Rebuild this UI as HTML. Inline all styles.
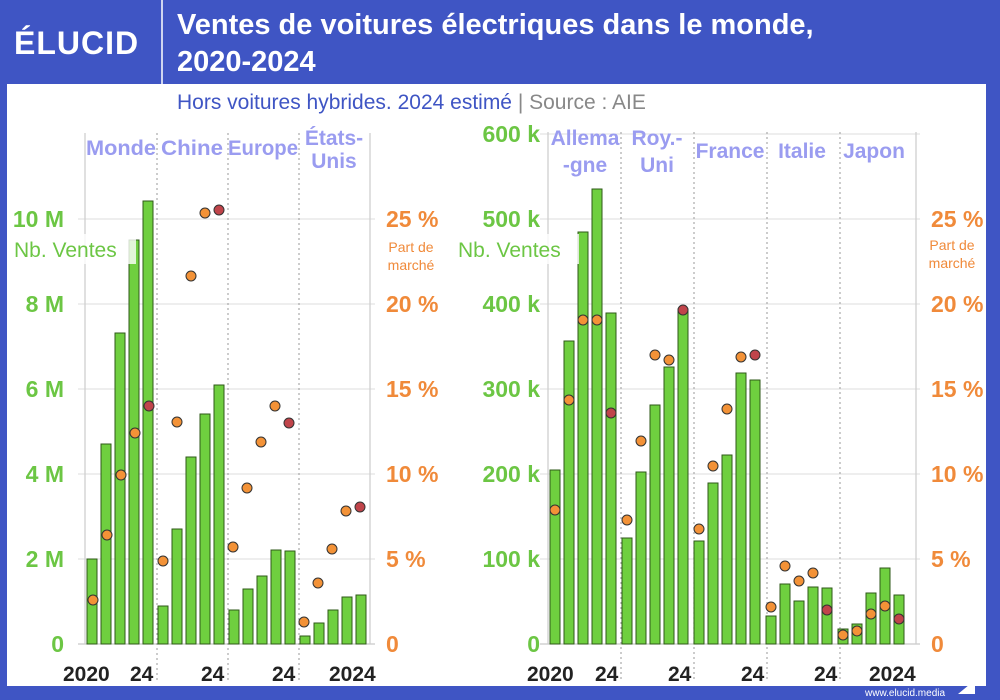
<!DOCTYPE html>
<html><head><meta charset="utf-8"><style>
body{margin:0;width:1000px;height:700px;overflow:hidden;background:#3f55c4;font-family:"Liberation Sans",sans-serif}
svg{display:block}
</style></head><body>
<svg width="1000" height="700" viewBox="0 0 1000 700" font-family="Liberation Sans, sans-serif">
<rect x="0" y="0" width="1000" height="700" fill="#3f55c4"/>
<rect x="7" y="84" width="979" height="602" fill="#fff"/>
<text x="14" y="54" font-size="32" font-weight="bold" fill="#fff" letter-spacing="1">ÉLUCID</text>
<line x1="162" y1="0" x2="162" y2="84" stroke="#fff" stroke-width="1.5"/>
<text x="177" y="34" font-size="29" font-weight="bold" fill="#fff">Ventes de voitures électriques dans le monde,</text>
<text x="177" y="71" font-size="29" font-weight="bold" fill="#fff">2020-2024</text>
<text x="177" y="109" font-size="21" fill="#3f55c4">Hors voitures hybrides. 2024 estimé <tspan fill="#888">  |  Source : AIE</tspan></text>
<text x="865" y="696" font-size="10" fill="#fff">www.elucid.media</text>
<polygon points="958,694 975,680 975,694" fill="#fff"/>

<g stroke="#ddd" stroke-width="1">
<line x1="78" y1="219" x2="375" y2="219"/><line x1="78" y1="304" x2="375" y2="304"/><line x1="78" y1="389" x2="375" y2="389"/><line x1="78" y1="474" x2="375" y2="474"/><line x1="78" y1="559" x2="375" y2="559"/><line x1="78" y1="644" x2="375" y2="644" stroke="#bbb"/>
<line x1="540" y1="134" x2="920" y2="134"/><line x1="540" y1="219" x2="920" y2="219"/><line x1="540" y1="304" x2="920" y2="304"/><line x1="540" y1="389" x2="920" y2="389"/><line x1="540" y1="474" x2="920" y2="474"/><line x1="540" y1="559" x2="920" y2="559"/><line x1="540" y1="644" x2="920" y2="644" stroke="#bbb"/>
</g>
<g stroke="#ccc" stroke-width="1.2">
<line x1="85" y1="133" x2="85" y2="644"/><line x1="370" y1="133" x2="370" y2="644"/>
<line x1="548" y1="132" x2="548" y2="644"/><line x1="916" y1="132" x2="916" y2="644"/>
</g>
<g stroke="#aaa" stroke-width="1.2" stroke-dasharray="2,3">
<line x1="157" y1="133" x2="157" y2="680"/><line x1="228" y1="133" x2="228" y2="680"/><line x1="299" y1="133" x2="299" y2="680"/>
<line x1="621" y1="132" x2="621" y2="680"/><line x1="694" y1="132" x2="694" y2="680"/><line x1="767" y1="132" x2="767" y2="680"/><line x1="840" y1="132" x2="840" y2="680"/>
</g>

<g font-size="21" font-weight="bold" fill="#9a9cf0" text-anchor="middle">
<text x="121" y="155" textLength="70" lengthAdjust="spacingAndGlyphs">Monde</text><text x="192" y="155" textLength="62" lengthAdjust="spacingAndGlyphs">Chine</text><text x="263" y="155" textLength="70" lengthAdjust="spacingAndGlyphs">Europe</text><text x="334" y="145">États-</text><text x="334" y="168">Unis</text>
<text x="585" y="145">Allema</text><text x="585" y="172">-gne</text><text x="657" y="145">Roy.-</text><text x="657" y="172">Uni</text><text x="730" y="158">France</text><text x="802" y="158">Italie</text><text x="874" y="158">Japon</text>
</g>

<g font-size="23" font-weight="bold" fill="#6cc644" text-anchor="end">
<text x="64" y="227">10 M</text><text x="64" y="312">8 M</text><text x="64" y="397">6 M</text><text x="64" y="482">4 M</text><text x="64" y="567">2 M</text><text x="64" y="652">0</text>
<text x="540" y="142">600 k</text><text x="540" y="227">500 k</text><text x="540" y="312">400 k</text><text x="540" y="397">300 k</text><text x="540" y="482">200 k</text><text x="540" y="567">100 k</text><text x="540" y="652">0</text>
</g>
<g font-size="23" font-weight="bold" fill="#f08a3a">
<text x="386" y="227">25 %</text><text x="386" y="312">20 %</text><text x="386" y="397">15 %</text><text x="386" y="482">10 %</text><text x="386" y="567">5 %</text><text x="386" y="652">0</text>
<text x="931" y="227">25 %</text><text x="931" y="312">20 %</text><text x="931" y="397">15 %</text><text x="931" y="482">10 %</text><text x="931" y="567">5 %</text><text x="931" y="652">0</text>
</g>
<g font-size="21" font-weight="bold" fill="#222">
<text x="63" y="681">2020</text><text x="130" y="681">24</text><text x="201" y="681">24</text><text x="272" y="681">24</text><text x="329" y="681">2024</text>
<text x="527" y="681">2020</text><text x="595" y="681">24</text><text x="668" y="681">24</text><text x="741" y="681">24</text><text x="814" y="681">24</text><text x="869" y="681">2024</text>
</g>

<g fill="#6fcf3f" stroke="#2f5a1a" stroke-width="1">
<rect x="87" y="559" width="10" height="85"/><rect x="101" y="444" width="10" height="200"/><rect x="115" y="333" width="10" height="311"/><rect x="129" y="240" width="10" height="404"/><rect x="143" y="201" width="10" height="443"/>
<rect x="158" y="606" width="10" height="38"/><rect x="172" y="529" width="10" height="115"/><rect x="186" y="457" width="10" height="187"/><rect x="200" y="414" width="10" height="230"/><rect x="214" y="385" width="10" height="259"/>
<rect x="229" y="610" width="10" height="34"/><rect x="243" y="589" width="10" height="55"/><rect x="257" y="576" width="10" height="68"/><rect x="271" y="550" width="10" height="94"/><rect x="285" y="551" width="10" height="93"/>
<rect x="300" y="636" width="10" height="8"/><rect x="314" y="623" width="10" height="21"/><rect x="328" y="610" width="10" height="34"/><rect x="342" y="597" width="10" height="47"/><rect x="356" y="595" width="10" height="49"/>
<rect x="550" y="470" width="10" height="174"/><rect x="564" y="341" width="10" height="303"/><rect x="578" y="232" width="10" height="412"/><rect x="592" y="189" width="10" height="455"/><rect x="606" y="313" width="10" height="331"/>
<rect x="622" y="538" width="10" height="106"/><rect x="636" y="472" width="10" height="172"/><rect x="650" y="405" width="10" height="239"/><rect x="664" y="367" width="10" height="277"/><rect x="678" y="309" width="10" height="335"/>
<rect x="694" y="541" width="10" height="103"/><rect x="708" y="483" width="10" height="161"/><rect x="722" y="455" width="10" height="189"/><rect x="736" y="373" width="10" height="271"/><rect x="750" y="380" width="10" height="264"/>
<rect x="766" y="616" width="10" height="28"/><rect x="780" y="584" width="10" height="60"/><rect x="794" y="601" width="10" height="43"/><rect x="808" y="587" width="10" height="57"/><rect x="822" y="588" width="10" height="56"/>
<rect x="838" y="629" width="10" height="15"/><rect x="852" y="624" width="10" height="20"/><rect x="866" y="593" width="10" height="51"/><rect x="880" y="568" width="10" height="76"/><rect x="894" y="595" width="10" height="49"/>
</g>

<rect x="12" y="234" width="124" height="30" fill="#fff" opacity="0.8"/>
<text x="14" y="257" font-size="21" fill="#6cc644">Nb. Ventes</text>
<rect x="455" y="234" width="124" height="30" fill="#fff" opacity="0.8"/>
<text x="458" y="257" font-size="21" fill="#6cc644">Nb. Ventes</text>
<g font-size="14" fill="#f08a3a" text-anchor="middle">
<text x="411" y="252">Part de</text><text x="411" y="270">marché</text>
<text x="952" y="250">Part de</text><text x="952" y="268">marché</text>
</g>

<g stroke="#333" stroke-width="1" fill="#f39237">
<circle cx="93" cy="600" r="5"/><circle cx="107" cy="535" r="5"/><circle cx="121" cy="475" r="5"/><circle cx="135" cy="433" r="5"/>
<circle cx="163" cy="561" r="5"/><circle cx="177" cy="422" r="5"/><circle cx="191" cy="276" r="5"/><circle cx="205" cy="213" r="5"/>
<circle cx="233" cy="547" r="5"/><circle cx="247" cy="488" r="5"/><circle cx="261" cy="442" r="5"/><circle cx="275" cy="406" r="5"/>
<circle cx="304" cy="622" r="5"/><circle cx="318" cy="583" r="5"/><circle cx="332" cy="549" r="5"/><circle cx="346" cy="511" r="5"/>
<circle cx="555" cy="510" r="5"/><circle cx="569" cy="400" r="5"/><circle cx="583" cy="320" r="5"/><circle cx="597" cy="320" r="5"/>
<circle cx="627" cy="520" r="5"/><circle cx="641" cy="441" r="5"/><circle cx="655" cy="355" r="5"/><circle cx="669" cy="360" r="5"/>
<circle cx="699" cy="529" r="5"/><circle cx="713" cy="466" r="5"/><circle cx="727" cy="409" r="5"/><circle cx="741" cy="357" r="5"/>
<circle cx="771" cy="607" r="5"/><circle cx="785" cy="566" r="5"/><circle cx="799" cy="581" r="5"/><circle cx="813" cy="573" r="5"/>
<circle cx="843" cy="635" r="5"/><circle cx="857" cy="631" r="5"/><circle cx="871" cy="614" r="5"/><circle cx="885" cy="606" r="5"/>
</g>
<g stroke="#333" stroke-width="1" fill="#c0444a">
<circle cx="149" cy="406" r="5"/><circle cx="219" cy="210" r="5"/><circle cx="289" cy="423" r="5"/><circle cx="360" cy="507" r="5"/>
<circle cx="611" cy="413" r="5"/><circle cx="683" cy="310" r="5"/><circle cx="755" cy="355" r="5"/><circle cx="827" cy="610" r="5"/><circle cx="899" cy="619" r="5"/>
</g>
</svg>
</body></html>
